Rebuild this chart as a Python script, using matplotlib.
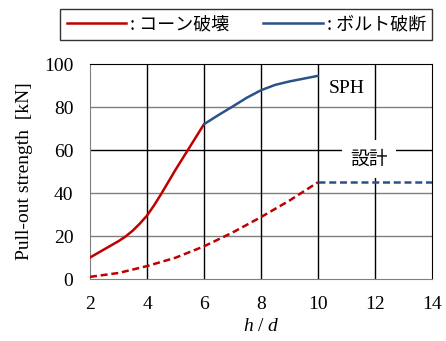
import matplotlib
matplotlib.use("Agg")
import matplotlib.pyplot as plt
from matplotlib.lines import Line2D

plt.rcParams['font.family'] = ['Liberation Serif', 'Noto Sans CJK JP']
plt.rcParams['mathtext.fontset'] = 'custom'
plt.rcParams['mathtext.rm'] = 'Liberation Serif'
plt.rcParams['mathtext.it'] = 'Liberation Serif:italic'

# SPH test results: cone failure then bolt fracture
cone_x = [2, 2.5, 3, 3.25, 3.5, 3.75, 4, 4.25, 4.5, 4.75, 5, 5.5, 6]
cone_y = [10, 13.8, 17.6, 19.8, 22.5, 25.8, 29.5, 34.3, 39.6, 45.2, 50.8, 61.4, 72]
bolt_x = [6, 6.5, 7, 7.5, 8, 8.5, 9, 9.5, 10]
bolt_y = [72, 76.2, 80.2, 84.3, 87.8, 90.3, 91.9, 93.2, 94.5]

# design values
design_cone_x = [2, 3, 4, 5, 6, 7, 8, 9, 10]
design_cone_y = [1, 2.8, 6, 9.9, 15.2, 21.6, 28.8, 36.5, 45]
design_bolt_x = [10, 14]
design_bolt_y = [45, 45]

red = "#C00000"
blue = "#2B5287"
dash = (0, (2.8, 1.5))

fig = plt.figure(figsize=(4.46, 3.41), dpi=100)
ax = fig.add_axes([0.2018, 0.1818, 0.7668, 0.6305])

for yv in [20, 40, 60, 80]:
    ax.axhline(yv, color="#000000" if yv == 60 else "#7f7f7f", lw=1.0, zorder=1)
for xv in [4, 6, 8, 10, 12]:
    ax.axvline(xv, color="black", lw=1.0, zorder=1)

ax.plot(cone_x, cone_y, color=red, lw=1.8, zorder=3, solid_capstyle="round")
ax.plot(bolt_x, bolt_y, color=blue, lw=1.8, zorder=3, solid_capstyle="round")
ax.plot(design_cone_x, design_cone_y, color=red, lw=1.8, ls=dash, zorder=3)
ax.plot(design_bolt_x, design_bolt_y, color=blue, lw=1.8, ls=dash, zorder=3)

ax.text(10.37, 88.4, "SPH", fontsize=14, va="center", ha="left", zorder=4)
ax.text(11.8, 55.8, "設計", fontsize=13.5, va="center", ha="center",
        family=['Noto Sans CJK JP'], zorder=4,
        bbox=dict(facecolor="white", edgecolor="none", pad=6))

ax.set_xlim(2, 14)
ax.set_ylim(0, 100)
ax.set_xticks([2, 4, 6, 8, 10, 12, 14])
ax.set_yticks([0, 20, 40, 60, 80, 100])
ax.tick_params(length=0, labelsize=14)
ax.tick_params(axis="x", pad=12.5)
ax.tick_params(axis="y", pad=12)
for side in ["left", "bottom"]:
    ax.spines[side].set_color("#7f7f7f")
for side in ["top", "right"]:
    ax.spines[side].set_color("black")

ax.set_xlabel("$h$ / $d$", fontsize=14, labelpad=3)
ax.set_ylabel("Pull-out strength  [kN]", fontsize=14, labelpad=8)

handles = [Line2D([], [], color=red, lw=1.8), Line2D([], [], color=blue, lw=1.8)]
leg = fig.legend(handles, [": コーン破壊", ": ボルト破断"], loc="center",
                 bbox_to_anchor=(0.552, 0.928), ncol=2, frameon=True, fancybox=False,
                 edgecolor="black", handlelength=3.3, handletextpad=0.2,
                 columnspacing=1.9, borderpad=0.35,
                 prop={'family': ['Noto Sans CJK JP'], 'size': 13})
leg.get_frame().set_linewidth(1.0)

fig.savefig("out.png", dpi=100)
